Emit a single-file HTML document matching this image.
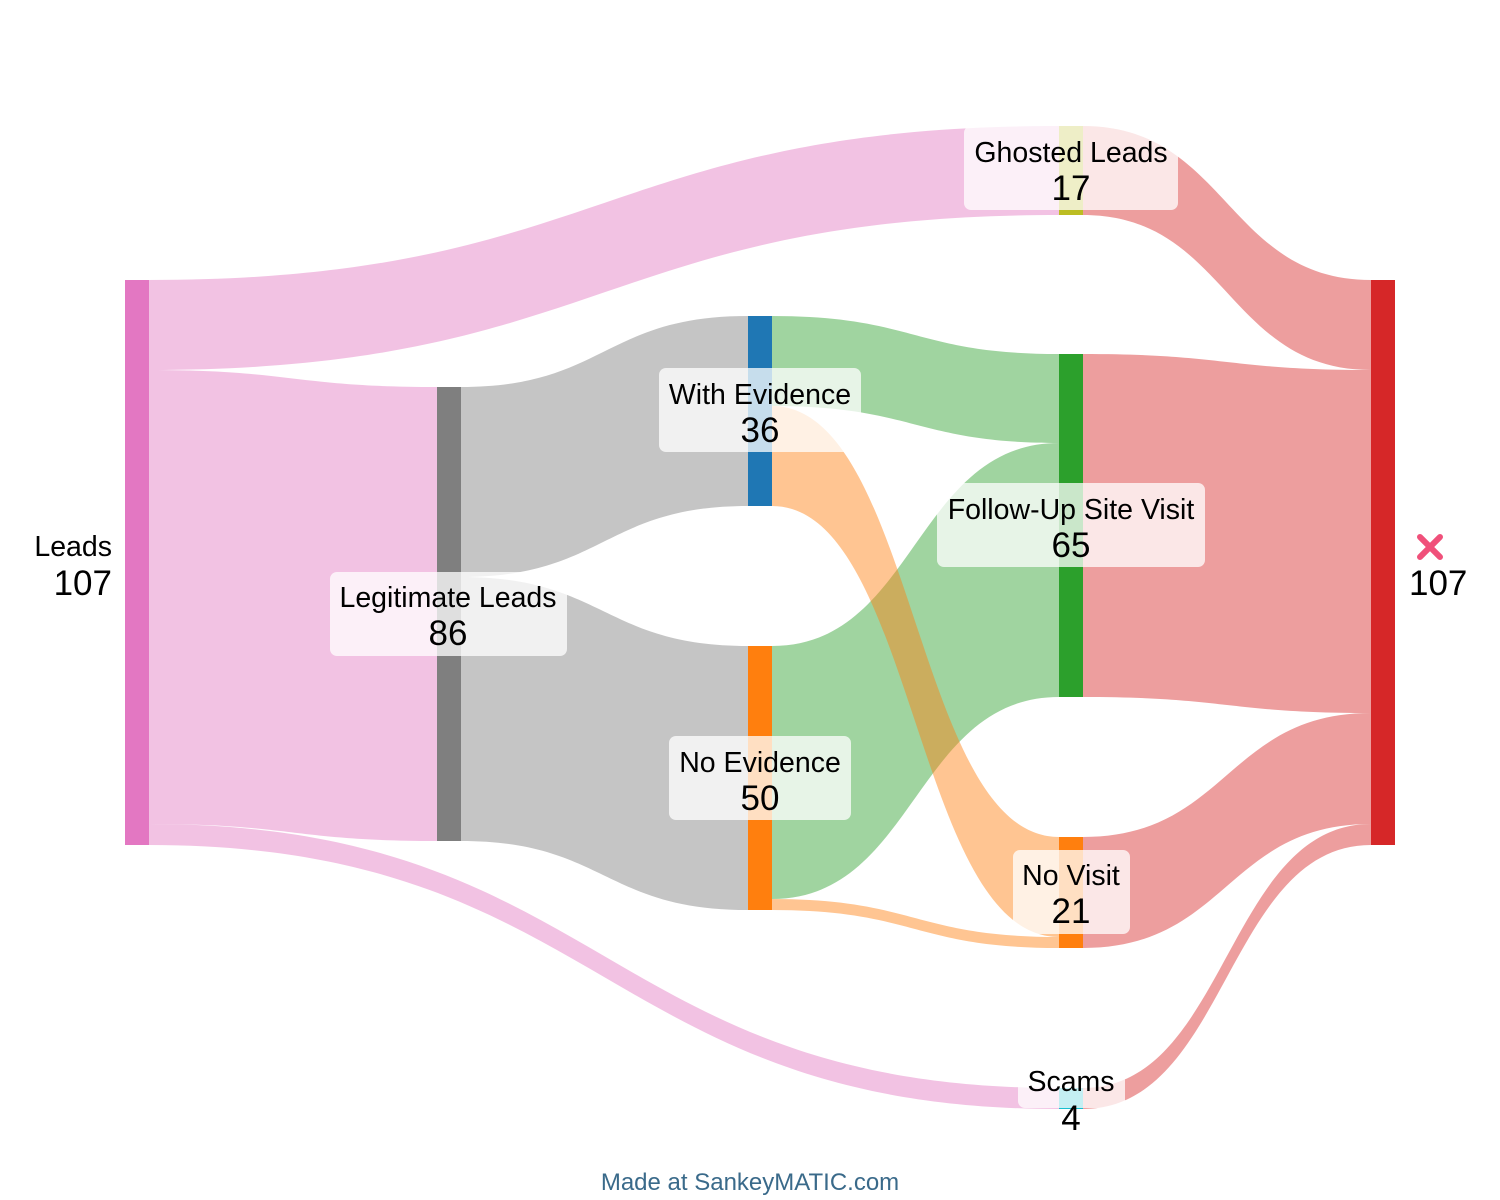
<!DOCTYPE html>
<html><head><meta charset="utf-8"><style>
html,body{margin:0;padding:0;background:#fff;}
svg{display:block;}
text{font-family:"Liberation Sans",Arial,sans-serif;fill:#000;}
</style></head><body>
<svg width="1500" height="1200" viewBox="0 0 1500 1200">
<g fill-opacity="0.45">
<path fill="#e377c2" d="M149,280 C604,280 604,126 1059,126 L1059,215 C604,215 604,370 149,370 Z"/>
<path fill="#e377c2" d="M149,370 C293,370 293,387 437,387 L437,841 C293,841 293,824 149,824 Z"/>
<path fill="#e377c2" d="M149,824 C604,824 604,1088 1059,1088 L1059,1109 C604,1109 604,845 149,845 Z"/>
<path fill="#7f7f7f" d="M461,387 C604,387 604,316 748,316 L748,506 C604,506 604,577 461,577 Z"/>
<path fill="#7f7f7f" d="M461,577 C604,577 604,646 748,646 L748,910 C604,910 604,841 461,841 Z"/>
<path fill="#2ca02c" d="M772,316 C915,316 915,354 1059,354 L1059,443 C915,443 915,406 772,406 Z"/>
<path fill="#2ca02c" d="M772,646 C915,646 915,443 1059,443 L1059,697 C915,697 915,899 772,899 Z"/>
<path fill="#ff7f0e" d="M772,406 C915,406 915,837 1059,837 L1059,937 C915,937 915,506 772,506 Z"/>
<path fill="#ff7f0e" d="M772,899 C915,899 915,937 1059,937 L1059,948 C915,948 915,910 772,910 Z"/>
<path fill="#d62728" d="M1083,126 C1227,126 1227,280 1371,280 L1371,370 C1227,370 1227,215 1083,215 Z"/>
<path fill="#d62728" d="M1083,354 C1227,354 1227,370 1371,370 L1371,713 C1227,713 1227,697 1083,697 Z"/>
<path fill="#d62728" d="M1083,837 C1227,837 1227,713 1371,713 L1371,824 C1227,824 1227,948 1083,948 Z"/>
<path fill="#d62728" d="M1083,1088 C1227,1088 1227,824 1371,824 L1371,845 C1227,845 1227,1109 1083,1109 Z"/>
</g>
<rect x="125" y="280" width="24" height="565" fill="#e377c2"/>
<rect x="437" y="387" width="24" height="454" fill="#7f7f7f"/>
<rect x="748" y="316" width="24" height="190" fill="#1f77b4"/>
<rect x="748" y="646" width="24" height="264" fill="#ff7f0e"/>
<rect x="1059" y="126" width="24" height="89" fill="#bcbd22"/>
<rect x="1059" y="354" width="24" height="343" fill="#2ca02c"/>
<rect x="1059" y="837" width="24" height="111" fill="#ff7f0e"/>
<rect x="1059" y="1088" width="24" height="21" fill="#17becf"/>
<rect x="1371" y="280" width="24" height="565" fill="#d62728"/>
<g fill="#fff" fill-opacity="0.75">
<rect x="330" y="572" width="237" height="84" rx="7"/>
<rect x="659" y="368" width="202" height="84" rx="7"/>
<rect x="669" y="736" width="182" height="84" rx="7"/>
<rect x="964" y="126" width="214" height="84" rx="7"/>
<rect x="937" y="483" width="268" height="84" rx="7"/>
<rect x="1013" y="850" width="117" height="84" rx="7"/>
<rect x="1018" y="1060" width="107" height="48" rx="7"/>
</g>
<g font-size="28.5" text-anchor="middle">
<text x="448" y="607">Legitimate Leads</text>
<text x="760" y="404">With Evidence</text>
<text x="760" y="772">No Evidence</text>
<text x="1071" y="162">Ghosted Leads</text>
<text x="1071" y="519">Follow-Up Site Visit</text>
<text x="1071" y="885">No Visit</text>
<text x="1071" y="1091">Scams</text>
</g>
<g font-size="35" text-anchor="middle">
<text x="448" y="645">86</text>
<text x="760" y="442">36</text>
<text x="760" y="810">50</text>
<text x="1071" y="200">17</text>
<text x="1071" y="557">65</text>
<text x="1071" y="923">21</text>
<text x="1071" y="1130">4</text>
</g>
<text x="112" y="556" font-size="28.5" text-anchor="end">Leads</text>
<text x="112" y="595" font-size="35" text-anchor="end">107</text>
<path d="M1420,537 L1440,557 M1440,537 L1420,557" stroke="#f0507a" stroke-width="6" stroke-linecap="round"/>
<text x="1409" y="595" font-size="35">107</text>
<text x="750" y="1190" font-size="24" text-anchor="middle" style="fill:#3a6a8a">Made at SankeyMATIC.com</text>
</svg>
</body></html>
